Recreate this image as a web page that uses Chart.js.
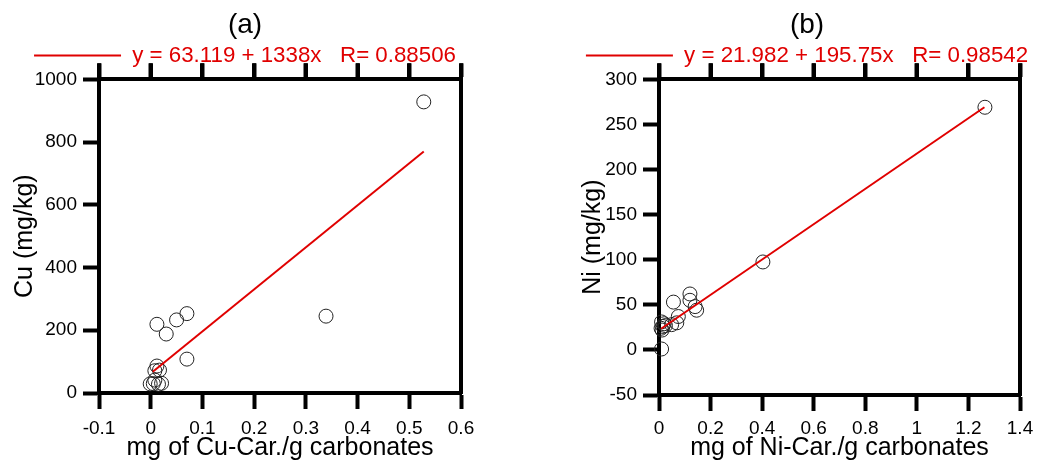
<!DOCTYPE html>
<html>
<head>
<meta charset="utf-8">
<script src="https://cdn.jsdelivr.net/npm/chart.js@4.4.1/dist/chart.umd.min.js"></script>
<style>
  html, body { margin: 0; padding: 0; background: #fff; }
  body { width: 1042px; height: 466px; position: relative; overflow: hidden; }
  .panel { position: absolute; top: 0; height: 466px; }
  #boxA { left: 0; width: 490px; }
  #boxB { left: 572px; width: 470px; }
</style>
</head>
<body>
<div class="panel" id="boxA"><canvas id="chartA"></canvas></div>
<div class="panel" id="boxB"><canvas id="chartB"></canvas></div>
<script>
// panel (a) - Cu
const cuCarb = [0.528, 0.339, 0.070, 0.050, 0.012, 0.030, 0.070, 0.012, 0.017, 0.008, -0.001, 0.005, 0.015, 0.021, 0.008];
const cuSoil = [928, 245, 253, 233, 219, 188, 108, 86, 73, 71, 29, 30, 28, 31, 41];
const cuFitX = [0.004, 0.528];
const cuFitY = [68, 770];
const cuFitText = "y = 63.119 + 1338x   R= 0.88506";
const cuXTicks = [-0.1, 0.6, 0.1];
const cuYTicks = [0, 1000, 200];

// panel (b) - Ni
const niCarb = [1.264, 0.403, 0.120, 0.056, 0.120, 0.140, 0.146, 0.075, 0.069, 0.049, 0.010, 0.015, 0.020, 0.008, 0.025, 0.012, 0.010];
const niSoil = [269, 97.5, 62, 53, 55, 48, 44, 37, 30, 28, 31, 26, 29, 24, 27, 22, 1];
const niFitX = [0.008, 1.262];
const niFitY = [23.5, 269];
const niFitText = "y = 21.982 + 195.75x   R= 0.98542";
const niXTicks = [0, 1.4, 0.2];
const niYTicks = [-50, 300, 50];

const FONT = "'Liberation Sans', Arial, Helvetica, sans-serif";
const RED = "#e00000";

Chart.defaults.color = "#000";
Chart.defaults.font.family = FONT;

function toPoints(xs, ys) {
  return xs.map((x, i) => ({ x: x, y: ys[i] }));
}

// plain numbers, no thousands separator, no "-0.0"
function tickText(v) {
  return String(Math.round(v * 1000) / 1000);
}

// top tick marks (at the bottom axis' ticks) and the two axis titles
const frameExtras = {
  id: "frameExtras",
  afterDraw(chart, args, opts) {
    const sx = chart.scales.x;
    const area = chart.chartArea;
    const c = chart.ctx;
    c.save();
    c.strokeStyle = "#000";
    c.lineWidth = 4;
    sx.ticks.forEach((t) => {
      const px = Math.round(sx.getPixelForValue(t.value));
      c.beginPath();
      c.moveTo(px, area.top);
      c.lineTo(px, area.top - 16);
      c.stroke();
    });

    c.fillStyle = "#000";
    c.font = "25px " + FONT;
    c.textAlign = "center";
    c.textBaseline = "middle";
    c.fillText(opts.xTitle, (area.left + area.right) / 2, chart.height - 18);
    c.translate(opts.yTitleX, (area.top + area.bottom) / 2);
    c.rotate(-Math.PI / 2);
    c.fillText(opts.yTitle, 0, 0);
    c.restore();
  },
};

function frameAxis(extra) {
  return Object.assign({
    type: "linear",
    border: { display: true, width: 4, color: "#000" },
    grid: { drawOnChartArea: false, tickLength: 16, tickWidth: 4, tickColor: "#000" },
  }, extra);
}

function createPanel(canvasId, p) {
  const canvas = document.getElementById(canvasId);
  const tickFont = { size: 19 };

  return new Chart(canvas, {
    type: "scatter",
    data: {
      datasets: [
        {
          label: "data",
          data: toPoints(p.xs, p.ys),
          pointRadius: 7,
          pointBorderWidth: 1,
          pointBorderColor: "#222",
          pointBackgroundColor: "rgba(0,0,0,0)",
          clip: false,
          order: 2,
        },
        {
          label: p.fitText,
          data: toPoints(p.fitX, p.fitY),
          showLine: true,
          pointRadius: 0,
          borderColor: RED,
          backgroundColor: RED,
          borderWidth: 2,
          fill: false,
          order: 1,
        },
      ],
    },
    plugins: [frameExtras],
    options: {
      responsive: true,
      maintainAspectRatio: false,
      animation: false,
      layout: { padding: 0 },
      scales: {
        x: frameAxis({
          position: "bottom",
          min: p.xTicks[0],
          max: p.xTicks[1],
          ticks: { stepSize: p.xTicks[2], font: tickFont, padding: p.xPad, callback: tickText },
          afterFit: (s) => { s.height = p.bottomH; },
        }),
        x2: frameAxis({
          position: "top",
          min: p.xTicks[0],
          max: p.xTicks[1],
          ticks: { stepSize: p.xTicks[2], display: false },
          afterFit: (s) => { s.height = 2.7; },
        }),
        y: frameAxis({
          position: "left",
          min: p.yTicks[0],
          max: p.yTicks[1],
          ticks: { stepSize: p.yTicks[2], font: tickFont, padding: 6, callback: tickText },
          afterFit: (s) => { s.width = p.leftW; },
        }),
        y2: frameAxis({
          position: "right",
          min: p.yTicks[0],
          max: p.yTicks[1],
          ticks: { display: false },
          grid: { drawOnChartArea: false, drawTicks: false },
          afterFit: (s) => { s.width = p.rightW; },
        }),
      },
      plugins: {
        frameExtras: { xTitle: p.xLabel, yTitle: p.yLabel, yTitleX: p.yTitleX },
        title: {
          display: true,
          text: p.title,
          font: { size: 28, weight: "normal" },
          padding: { top: 8, bottom: 0 },
        },
        legend: {
          labels: {
            filter: (item) => item.datasetIndex === 1,
            color: RED,
            font: { size: 22.3 },
            boxWidth: 87,
            boxHeight: 0,
            padding: 2.7,
          },
        },
        tooltip: { enabled: false },
      },
    },
  });
}

createPanel("chartA", {
  title: "(a)",
  xs: cuCarb, ys: cuSoil,
  fitX: cuFitX, fitY: cuFitY, fitText: cuFitText,
  xTicks: cuXTicks, yTicks: cuYTicks,
  xLabel: "mg of Cu-Car./g carbonates",
  yLabel: "Cu (mg/kg)",
  leftW: 99, rightW: 29, bottomH: 73, xPad: 8, yTitleX: 25,
});

createPanel("chartB", {
  title: "(b)",
  xs: niCarb, ys: niSoil,
  fitX: niFitX, fitY: niFitY, fitText: niFitText,
  xTicks: niXTicks, yTicks: niYTicks,
  xLabel: "mg of Ni-Car./g carbonates",
  yLabel: "Ni (mg/kg)",
  leftW: 87, rightW: 22, bottomH: 71, xPad: 6, yTitleX: 21,
});
</script>
</body>
</html>
